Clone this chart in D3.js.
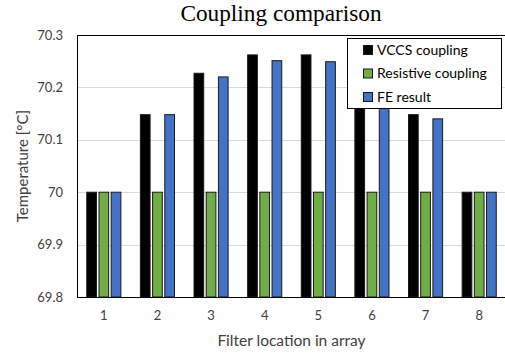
<!DOCTYPE html>
<html>
<head>
<meta charset="utf-8">
<script src="https://cdn.jsdelivr.net/npm/d3@7"></script>
<style>
  body { margin: 0; background: #fff; }
  svg { display: block; }
</style>
</head>
<body>
<svg id="chart" width="505" height="353"></svg>
<script>
const categories = ["1", "2", "3", "4", "5", "6", "7", "8"];
const seriesNames = ["VCCS coupling", "Resistive coupling", "FE result"];
const vccs = [70.0, 70.148, 70.227, 70.262, 70.262, 70.227, 70.148, 70.0];
const resistive = [70.0, 70.0, 70.0, 70.0, 70.0, 70.0, 70.0, 70.0];
const feResult = [70.0, 70.148, 70.22, 70.251, 70.249, 70.22, 70.14, 70.0];
const yTicks = [69.8, 69.9, 70.0, 70.1, 70.2, 70.3];
const colors = ["#000000", "#70AD47", "#4472C4"];
const seriesValues = [vccs, resistive, feResult];

(function () {
const svg = d3.select("#chart");
const pLeft = 77, pRight = 506, pTop = 35, pBottom = 297;
const font = "Lato, 'Open Sans', sans-serif";

const x = d3.scaleBand().domain(categories).range([pLeft, pRight]).padding(0);
const x1 = d3.scaleBand().domain(seriesNames).range([0, x.bandwidth()])
  .paddingInner(0.205).paddingOuter(0.8);
const y = d3.scaleLinear().domain([69.8, 70.3]).range([pBottom, pTop]);

// gridlines
svg.append("g").selectAll("line").data(yTicks.slice(1, -1)).join("line")
  .attr("x1", pLeft).attr("x2", pRight)
  .attr("y1", d => Math.round(y(d)) + 0.5).attr("y2", d => Math.round(y(d)) + 0.5)
  .attr("stroke", "#d9d9d9").attr("stroke-width", 1);

// bars
const rows = categories.map((c, i) => ({ c, vals: seriesNames.map((s, j) => ({ s, j, v: seriesValues[j][i] })) }));
svg.append("g").selectAll("g").data(rows).join("g")
  .attr("transform", d => `translate(${x(d.c)},0)`)
  .selectAll("rect").data(d => d.vals).join("rect")
  .attr("x", d => x1(d.s))
  .attr("y", d => y(d.v))
  .attr("width", x1.bandwidth())
  .attr("height", d => y(69.8) - y(d.v))
  .attr("fill", d => colors[d.j])
  .attr("stroke", "#1a1a1a").attr("stroke-width", 1);

// plot border
svg.append("rect").attr("x", pLeft + 0.5).attr("y", pTop + 0.5)
  .attr("width", pRight - pLeft).attr("height", pBottom - pTop)
  .attr("fill", "none").attr("stroke", "#000").attr("stroke-width", 1);

// y axis
const yAxis = d3.axisLeft(y).tickValues(yTicks).tickSize(0).tickPadding(14)
  .tickFormat(d => String(+d.toFixed(1)));
const gy = svg.append("g").attr("transform", `translate(${pLeft},0)`).call(yAxis);
gy.select(".domain").remove();
gy.selectAll("text").attr("font-family", font).attr("font-size", 13).attr("fill", "#404040");

// x axis
const xAxis = d3.axisBottom(x).tickSize(0).tickPadding(14);
const gx = svg.append("g").attr("transform", `translate(0,${pBottom})`).call(xAxis);
gx.select(".domain").remove();
gx.selectAll("text").attr("font-family", font).attr("font-size", 13).attr("fill", "#404040");

// title
svg.append("text").attr("x", 281).attr("y", 21).attr("text-anchor", "middle")
  .attr("font-family", "'Liberation Serif', 'Times New Roman', serif").attr("font-size", 23.3)
  .attr("fill", "#000").text("Coupling comparison");

// axis titles
svg.append("text").attr("x", (pLeft + pRight) / 2).attr("y", 346).attr("text-anchor", "middle")
  .attr("font-family", font).attr("font-size", 15.5).attr("fill", "#404040")
  .text("Filter location in array");
svg.append("text").attr("transform", `translate(28,${(pTop + pBottom) / 2}) rotate(-90)`)
  .attr("text-anchor", "middle")
  .attr("font-family", font).attr("font-size", 15).attr("fill", "#404040")
  .text("Temperature [°C]");

// legend
const lg = svg.append("g");
lg.append("rect").attr("x", 347.5).attr("y", 38.5).attr("width", 154).attr("height", 70)
  .attr("fill", "#fff").attr("stroke", "#000").attr("stroke-width", 1);
const items = lg.selectAll("g.item").data(seriesNames).join("g").attr("class", "item")
  .attr("transform", (d, i) => `translate(363,${50 + i * 23.5})`);
items.append("rect").attr("x", 0.5).attr("y", -4.5).attr("width", 9).attr("height", 9)
  .attr("fill", (d, i) => colors[i]).attr("stroke", "#1a1a1a").attr("stroke-width", 1);
items.append("text").attr("x", 14).attr("y", 0).attr("dy", "0.35em")
  .attr("font-family", font).attr("font-size", 14).attr("fill", "#000").text(d => d);
})();
</script>
</body>
</html>
